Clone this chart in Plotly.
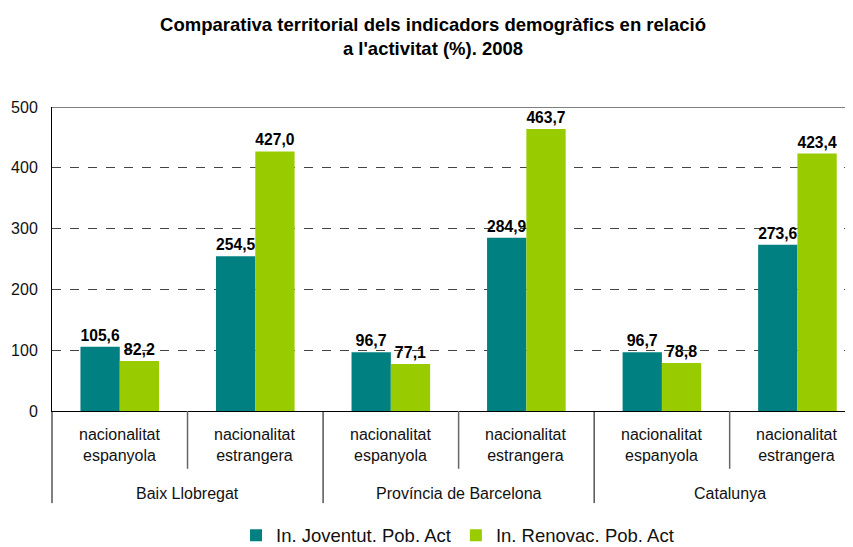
import plotly.graph_objects as go

territoris = ["Baix Llobregat", "Província de Barcelona", "Catalunya"]
nacionalitats = ["nacionalitat<br>espanyola", "nacionalitat<br>estrangera"]
joventut = [105.6, 254.5, 96.7, 284.9, 96.7, 273.6]
renovac = [82.2, 427.0, 77.1, 463.7, 78.8, 423.4]
y_ticks = [0, 100, 200, 300, 400, 500]

TEAL = "#008080"
GREEN = "#99CC00"
FONT = "Liberation Sans, Arial, sans-serif"

xpos = list(range(len(joventut)))


def fmt(v):
    return f"{v:.1f}".replace(".", ",")


fig = go.Figure()
fig.add_trace(go.Bar(x=xpos, y=joventut, name="In. Joventut. Pob. Act",
                     marker=dict(color=TEAL, line=dict(width=0)),
                     text=[fmt(v) for v in joventut], textposition="outside",
                     textfont=dict(family=FONT, size=16, color="black"),
                     texttemplate="<b>%{text}</b>", cliponaxis=False))
fig.add_trace(go.Bar(x=xpos, y=renovac, name="In. Renovac. Pob. Act",
                     marker=dict(color=GREEN, line=dict(width=0)),
                     text=[fmt(v) for v in renovac], textposition="outside",
                     textfont=dict(family=FONT, size=16, color="black"),
                     texttemplate="<b>%{text}</b>", cliponaxis=False))

# category labels and dividers under the axis
for i, x in enumerate(xpos):
    fig.add_annotation(x=x, y=-0.043, xref="x", yref="paper", yanchor="top",
                       text=nacionalitats[i % 2], showarrow=False,
                       font=dict(family=FONT, size=16, color="#111"))
for g, name in enumerate(territoris):
    fig.add_annotation(x=2 * g + 0.5, y=-0.27, xref="x", yref="paper", yanchor="middle",
                       text=name, showarrow=False,
                       font=dict(family=FONT, size=16, color="#111"))
    fig.add_shape(type="line", xref="x", yref="paper", x0=2 * g + 0.5, x1=2 * g + 0.5,
                  y0=0, y1=-0.19, line=dict(color="#666", width=1.5))
    if g > 0:
        fig.add_shape(type="line", xref="x", yref="paper", x0=2 * g - 0.5, x1=2 * g - 0.5,
                      y0=0, y1=-0.303, line=dict(color="black", width=1))
fig.add_shape(type="line", xref="paper", yref="paper", x0=0, x1=0,
              y0=0, y1=-0.303, line=dict(color="black", width=1))
# top border
fig.add_shape(type="line", xref="paper", yref="y", x0=0, x1=1, y0=500, y1=500,
              line=dict(color="black", width=1))

fig.update_layout(
    width=845, height=539,
    margin=dict(l=44, r=0, t=99, b=136, autoexpand=False),
    paper_bgcolor="white", plot_bgcolor="white",
    title=dict(text="<b>Comparativa territorial dels indicadors demogràfics en relació<br>a l'activitat (%). 2008</b>",
               x=0.503, xanchor="center", y=0.958, yanchor="top",
               font=dict(family=FONT, size=18.5, color="black")),
    barmode="group", bargap=0.42, bargroupgap=0,
    font=dict(family=FONT, size=16, color="#111"),
    showlegend=True,
    legend=dict(orientation="h", x=0.532, xanchor="center", xref="container",
                yref="container", y=0.021, yanchor="middle",
                font=dict(family=FONT, size=18.5, color="#111"), itemwidth=30,
                traceorder="normal"),
)
fig.update_xaxes(range=[-0.5, 5.41], showticklabels=False, showgrid=False, automargin=False,
                 showline=True, linecolor="black", linewidth=1, zeroline=False, ticks="")
fig.update_yaxes(range=[0, 500], tickvals=y_ticks, showline=True, linecolor="black",
                 linewidth=1, showgrid=True, gridcolor="#444", griddash="dash",
                 gridwidth=1, zeroline=False, ticks="", automargin=False,
                 ticklabelstandoff=10,
                 tickfont=dict(family=FONT, size=16, color="#111"))

fig.write_html("out.html")
